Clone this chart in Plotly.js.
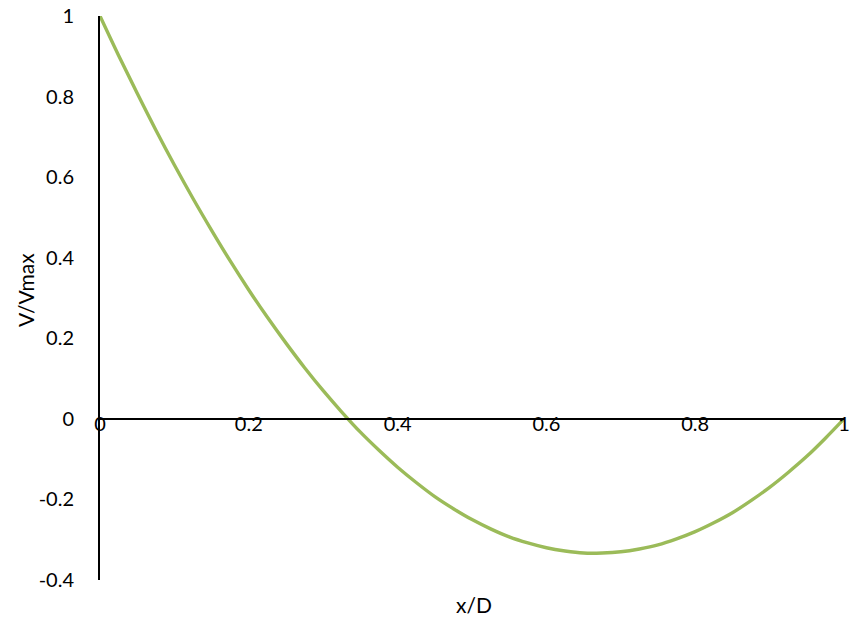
<!DOCTYPE html>
<html>
<head>
<meta charset="utf-8">
<script src="https://cdn.plot.ly/plotly-3.0.1.min.js"></script>
<style>html,body{margin:0;padding:0;background:#fff;}#chart{width:852px;height:620px;}</style>
</head>
<body>
<div id="chart"></div>
<script>
const xValues = [0, 0.025, 0.05, 0.075, 0.1, 0.125, 0.15, 0.175, 0.2, 0.225, 0.25, 0.275, 0.3, 0.325, 0.35, 0.375, 0.4, 0.425, 0.45, 0.475, 0.5, 0.525, 0.55, 0.575, 0.6, 0.625, 0.65, 0.675, 0.7, 0.725, 0.75, 0.775, 0.8, 0.825, 0.85, 0.875, 0.9, 0.925, 0.95, 0.975, 1];
const vValues = [1, 0.902, 0.808, 0.717, 0.63, 0.547, 0.468, 0.392, 0.32, 0.252, 0.188, 0.127, 0.07, 0.017, -0.033, -0.078, -0.12, -0.158, -0.193, -0.223, -0.25, -0.273, -0.293, -0.308, -0.32, -0.328, -0.333, -0.333, -0.33, -0.323, -0.313, -0.298, -0.28, -0.258, -0.233, -0.203, -0.17, -0.133, -0.093, -0.048, 0];
const xTicks = [0, 0.2, 0.4, 0.6, 0.8, 1];
const xTickLabels = ['0', '0.2', '0.4', '0.6', '0.8', '1'];
const yTicks = [-0.4, -0.2, 0, 0.2, 0.4, 0.6, 0.8, 1];
const yTickLabels = ['-0.4', '-0.2', '0', '0.2', '0.4', '0.6', '0.8', '1'];
const xTitle = 'x/D';
const yTitle = 'V/Vmax';

const font = {family: 'Lato, "Open Sans", sans-serif', size: 20, color: '#000'};
const titleFont = {family: 'Lato, "Open Sans", sans-serif', size: 21, color: '#000'};
const yMin = -0.4, yMax = 1;

Plotly.newPlot('chart', [{
  x: xValues, y: vValues, type: 'scatter', mode: 'lines',
  line: {color: '#9BBB59', width: 3.4, shape: 'spline', smoothing: 1},
  hoverinfo: 'skip', showlegend: false, cliponaxis: false
}], {
  width: 852, height: 620,
  margin: {l: 100, r: 8, t: 16, b: 40},
  paper_bgcolor: '#fff', plot_bgcolor: '#fff',
  font: font,
  xaxis: {
    range: [0, 1], tickvals: xTicks, ticktext: xTickLabels,
    showgrid: false, zeroline: false, showline: true, linecolor: '#000', linewidth: 2,
    ticks: '', anchor: 'free', position: (0 - yMin) / (yMax - yMin),
    ticklabelstandoff: -13, ticklabeloverflow: 'allow', tickfont: font
  },
  yaxis: {
    range: [yMin, yMax], tickvals: yTicks, ticktext: yTickLabels,
    showgrid: false, zeroline: false, showline: true, linecolor: '#000', linewidth: 2,
    ticks: '', ticklabelstandoff: 20, tickfont: font
  },
  annotations: [
    {text: xTitle, xref: 'paper', yref: 'paper', x: 0.503, y: -0.0426, xanchor: 'center', yanchor: 'middle', showarrow: false, font: titleFont},
    {text: yTitle, xref: 'paper', yref: 'paper', x: -0.101, y: 0.514, xanchor: 'center', yanchor: 'middle', textangle: -90, showarrow: false, font: titleFont}
  ]
}, {staticPlot: true});
</script>
</body>
</html>
